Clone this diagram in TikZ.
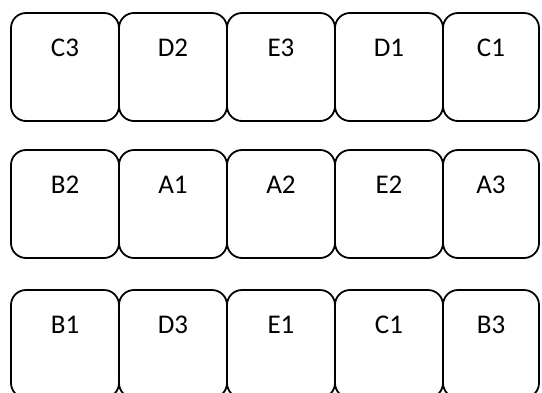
\documentclass[tikz,border=0pt]{standalone}
\usepackage{fontspec}
\setmainfont{Carlito}
\usetikzlibrary{positioning}
\tikzset{
  card/.style={draw, line width=1.8pt, rounded corners=15pt,
               minimum height=108pt, anchor=north west,
               inner sep=0pt, outer sep=0pt},
  cardtext/.style={font=\fontsize{27}{32}\selectfont, inner sep=0pt}
}

\begin{document}
\begin{tikzpicture}[x=1pt,y=-1pt]
  \useasboundingbox (0,0) rectangle (542,392);
  \clip (0,0) rectangle (542,392);
  % first row
  \foreach \txt [count=\c] in {C3,D2,E3,D1,C1} {
    \node[card, minimum width={\c==5 ? 96 : 108}] (ra\c) at ({11+108*(\c-1)},13) {};
    \node[cardtext] (ta\c) at ([yshift=-35pt]ra\c.north) {\txt};
  }
  % second row
  \foreach \txt [count=\c] in {B2,A1,A2,E2,A3} {
    \node[card, minimum width={\c==5 ? 96 : 108}] (rb\c) at ({11+108*(\c-1)},150) {};
    \node[cardtext] (tb\c) at ([yshift=-35pt]rb\c.north) {\txt};
  }
  % third row
  \foreach \txt [count=\c] in {B1,D3,E1,C1,B3} {
    \node[card, minimum width={\c==5 ? 96 : 108}] (rc\c) at ({11+108*(\c-1)},290) {};
    \node[cardtext] (tc\c) at ([yshift=-35pt]rc\c.north) {\txt};
  }
\end{tikzpicture}
\end{document}
